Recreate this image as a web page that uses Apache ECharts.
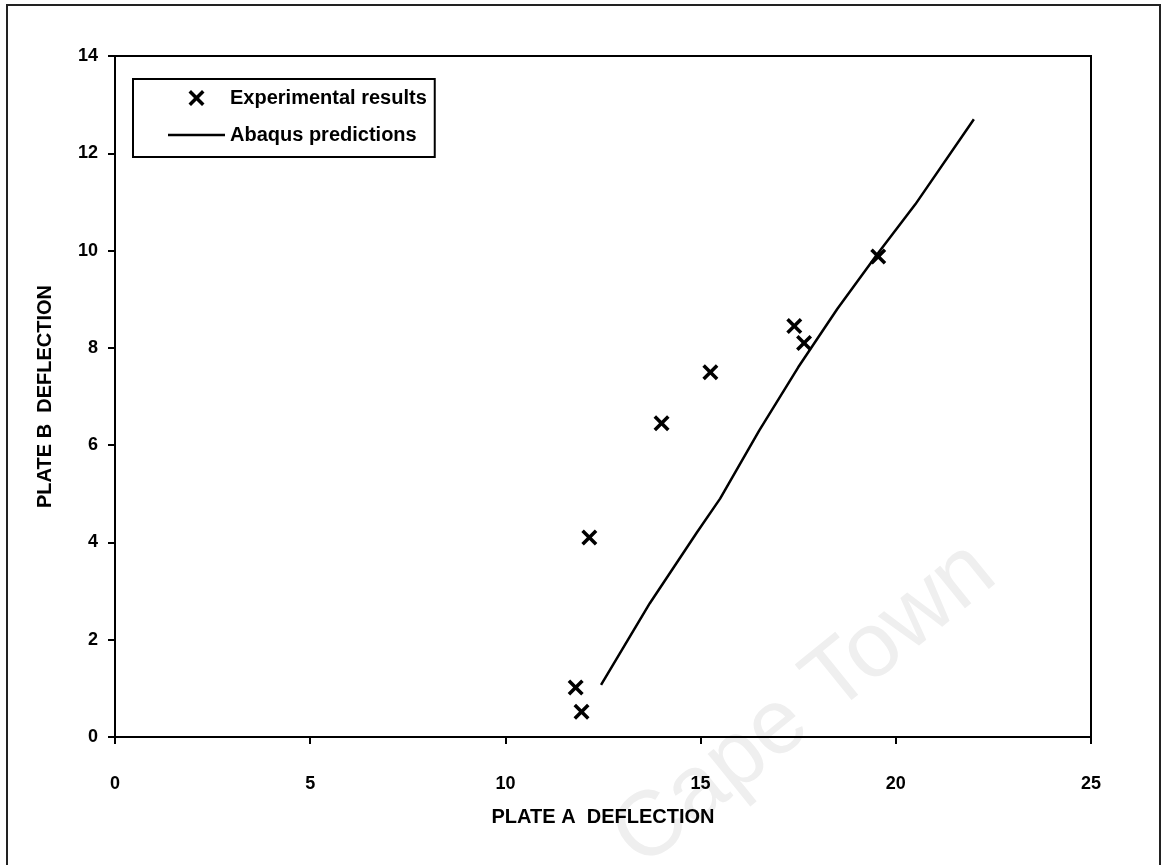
<!DOCTYPE html>
<html lang="en">
<head>
  <meta charset="UTF-8">
  <title>Plate deflection</title>
  <script src="https://cdn.jsdelivr.net/npm/echarts@6/dist/echarts.min.js"></script>
  <style>
    html, body { margin: 0; padding: 0; background: #fff; }
    #chart { width: 1162px; height: 865px; }
  </style>
</head>
<body>
<div id="chart"></div>
<script>
  // experimental results (plate A, plate B)
  var expA = [11.8, 11.95, 12.15, 14.0, 15.25, 17.4, 17.65, 19.55];
  var expB = [1.02, 0.52, 4.1, 6.45, 7.5, 8.45, 8.1, 9.88];
  // abaqus prediction curve
  var abqA = [12.45, 13.7, 14.9, 15.5, 16.5, 17.5, 18.5, 19.5, 20.5, 22.0];
  var abqB = [1.07, 2.75, 4.2, 4.9, 6.3, 7.6, 8.8, 9.9, 10.95, 12.7];
  var xTicks = [0, 5, 10, 15, 20, 25];
  var yTicks = [0, 2, 4, 6, 8, 10, 12, 14];

  var font = '"Liberation Sans", Arial, sans-serif';
  var cross = 'path://M0,2.5 L2.5,0 L8,5.5 L13.5,0 L16,2.5 L10.5,8 L16,13.5 L13.5,16 L8,10.5 L2.5,16 L0,13.5 L5.5,8 Z';
  var dash = 'path://M0,0 L57,0 L57,2.5 L0,2.5 Z';

  function pairs(a, b) {
    var out = [];
    for (var i = 0; i < a.length; i++) out.push([a[i], b[i]]);
    return out;
  }

  var chart = echarts.init(document.getElementById('chart'));
  chart.setOption({
    animation: false,
    backgroundColor: '#fff',
    textStyle: { fontFamily: font },
    graphic: [
      {
        type: 'rect', z: 0,
        shape: { x: 7, y: 5, width: 1153, height: 870 },
        style: { fill: 'none', stroke: '#222', lineWidth: 2 }
      },
      {
        type: 'text', z: -1, x: 805, y: 705, rotation: 0.68,
        style: {
          text: 'Cape Town', fill: '#efefef', font: '92px ' + font,
          align: 'center', verticalAlign: 'middle'
        }
      }
    ],
    grid: {
      left: 115, right: 71, top: 56, bottom: 128,
      show: true, borderColor: '#000', borderWidth: 2, backgroundColor: 'transparent'
    },
    legend: {
      orient: 'vertical', left: 133, top: 79,
      padding: [9, 8, 12, 35],
      itemWidth: 57, itemHeight: 16, itemGap: 17,
      borderColor: '#000', borderWidth: 2, backgroundColor: '#fff',
      symbolKeepAspect: true,
      textStyle: { fontFamily: font, fontWeight: 'bold', fontSize: 20, color: '#000', lineHeight: 20 },
      data: [
        { name: 'Experimental results', icon: cross },
        { name: 'Abaqus predictions', icon: dash }
      ]
    },
    xAxis: {
      type: 'value', min: 0, max: 25, interval: 5,
      name: 'PLATE A  DEFLECTION', nameLocation: 'middle', nameGap: 70,
      nameTextStyle: { fontFamily: font, fontWeight: 'bold', fontSize: 20, color: '#000' },
      axisLine: { show: true, onZero: false, lineStyle: { color: '#000', width: 2 } },
      axisTick: { show: true, inside: false, length: 7, lineStyle: { color: '#000', width: 2 } },
      axisLabel: {
        margin: 38, fontFamily: font, fontWeight: 'bold', fontSize: 18, color: '#000',
        formatter: function (v) { return xTicks.indexOf(v) >= 0 ? String(v) : ''; }
      },
      splitLine: { show: false }
    },
    yAxis: {
      type: 'value', min: 0, max: 14, interval: 2,
      name: 'PLATE B  DEFLECTION', nameLocation: 'middle', nameGap: 60,
      nameTextStyle: { fontFamily: font, fontWeight: 'bold', fontSize: 20, color: '#000' },
      axisLine: { show: true, onZero: false, lineStyle: { color: '#000', width: 2 } },
      axisTick: { show: true, inside: false, length: 7, lineStyle: { color: '#000', width: 2 } },
      axisLabel: {
        margin: 17, fontFamily: font, fontWeight: 'bold', fontSize: 18, color: '#000',
        formatter: function (v) { return yTicks.indexOf(v) >= 0 ? String(v) : ''; }
      },
      splitLine: { show: false }
    },
    series: [
      {
        name: 'Experimental results', type: 'scatter',
        symbol: cross, symbolSize: 16,
        itemStyle: { color: '#000', opacity: 1 },
        data: pairs(expA, expB), z: 3
      },
      {
        name: 'Abaqus predictions', type: 'line',
        showSymbol: false, symbol: 'none',
        lineStyle: { color: '#000', width: 2.5 },
        itemStyle: { color: '#000' },
        data: pairs(abqA, abqB), z: 2
      }
    ]
  });
</script>
</body>
</html>
